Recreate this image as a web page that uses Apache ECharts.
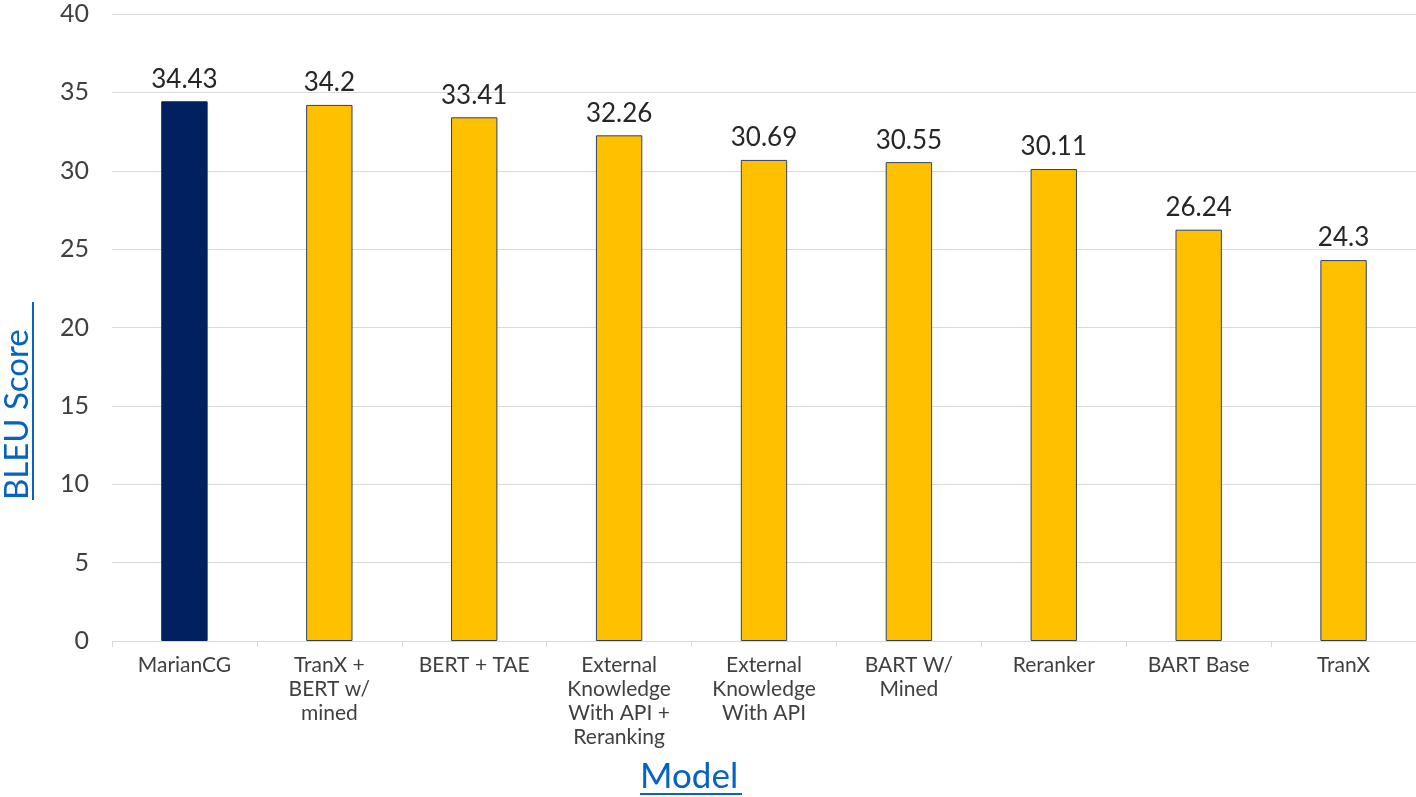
<!DOCTYPE html>
<html>
<head>
<meta charset="utf-8">
<title>BLEU Score by Model</title>
<script src="https://cdn.jsdelivr.net/npm/echarts@6/dist/echarts.min.js"></script>
<style>
  html, body { margin: 0; padding: 0; background: #fff; }
  #chart { width: 1416px; height: 797px; }
</style>
</head>
<body>
<div id="chart"></div>
<script>
// data
var models = [
  'MarianCG',
  'TranX +\nBERT w/\nmined',
  'BERT + TAE',
  'External\nKnowledge\nWith API +\nReranking',
  'External\nKnowledge\nWith API',
  'BART W/\nMined',
  'Reranker',
  'BART Base',
  'TranX'
]
var bleuScores = [34.43, 34.2, 33.41, 32.26, 30.69, 30.55, 30.11, 26.24, 24.3]
var highlightModel = 'MarianCG'

var yMin = 0
var yMax = 40
var yStep = 5

var FONT = 'Lato, "Open Sans", sans-serif'
var gray = '#404040'
var linkBlue = '#0563C1'

var chart = echarts.init(document.getElementById('chart'))

var option = {
  backgroundColor: '#ffffff',
  animation: false,
  grid: {
    left: 112,
    right: 0,
    top: 14,
    bottom: 156
  },
  xAxis: {
    type: 'category',
    data: models,
    axisLine: { lineStyle: { color: '#d9d9d9', width: 1 } },
    axisTick: { show: true, alignWithLabel: false, length: 6, lineStyle: { color: '#d9d9d9' } },
    axisLabel: {
      interval: 0,
      margin: 12,
      color: gray,
      fontFamily: FONT,
      fontSize: 21,
      lineHeight: 24,
      align: 'center'
    }
  },
  yAxis: {
    type: 'value',
    min: yMin,
    max: yMax,
    interval: yStep,
    axisLine: { show: false },
    axisTick: { show: false },
    splitLine: { lineStyle: { color: '#d9d9d9', width: 1 } },
    axisLabel: {
      margin: 23,
      color: gray,
      fontFamily: FONT,
      fontSize: 25
    }
  },
  series: [{
    type: 'bar',
    barWidth: '32%',
    data: bleuScores.map(function (v, i) {
      var isMain = models[i] === highlightModel
      return {
        value: v,
        itemStyle: {
          color: isMain ? '#002060' : '#FFC000',
          borderColor: isMain ? '#002060' : '#2F3F6E',
          borderWidth: 1
        }
      }
    }),
    label: {
      show: true,
      position: 'top',
      distance: 9,
      color: '#262626',
      fontFamily: FONT,
      fontSize: 26
    }
  }],
  graphic: [
    // x axis name, underlined like the source
    {
      type: 'text',
      left: 640,
      top: 759,
      style: { text: 'Model', fill: linkBlue, font: '35px ' + FONT }
    },
    {
      type: 'rect',
      shape: { x: 640, y: 793, width: 102, height: 2 },
      style: { fill: linkBlue }
    },
    // y axis name, rotated
    {
      type: 'text',
      x: 1,
      y: 500,
      rotation: Math.PI / 2,
      style: { text: 'BLEU Score', fill: linkBlue, font: '33px ' + FONT }
    },
    {
      type: 'rect',
      shape: { x: 32, y: 302, width: 2, height: 198 },
      style: { fill: linkBlue }
    }
  ]
}

chart.setOption(option)
</script>
</body>
</html>
